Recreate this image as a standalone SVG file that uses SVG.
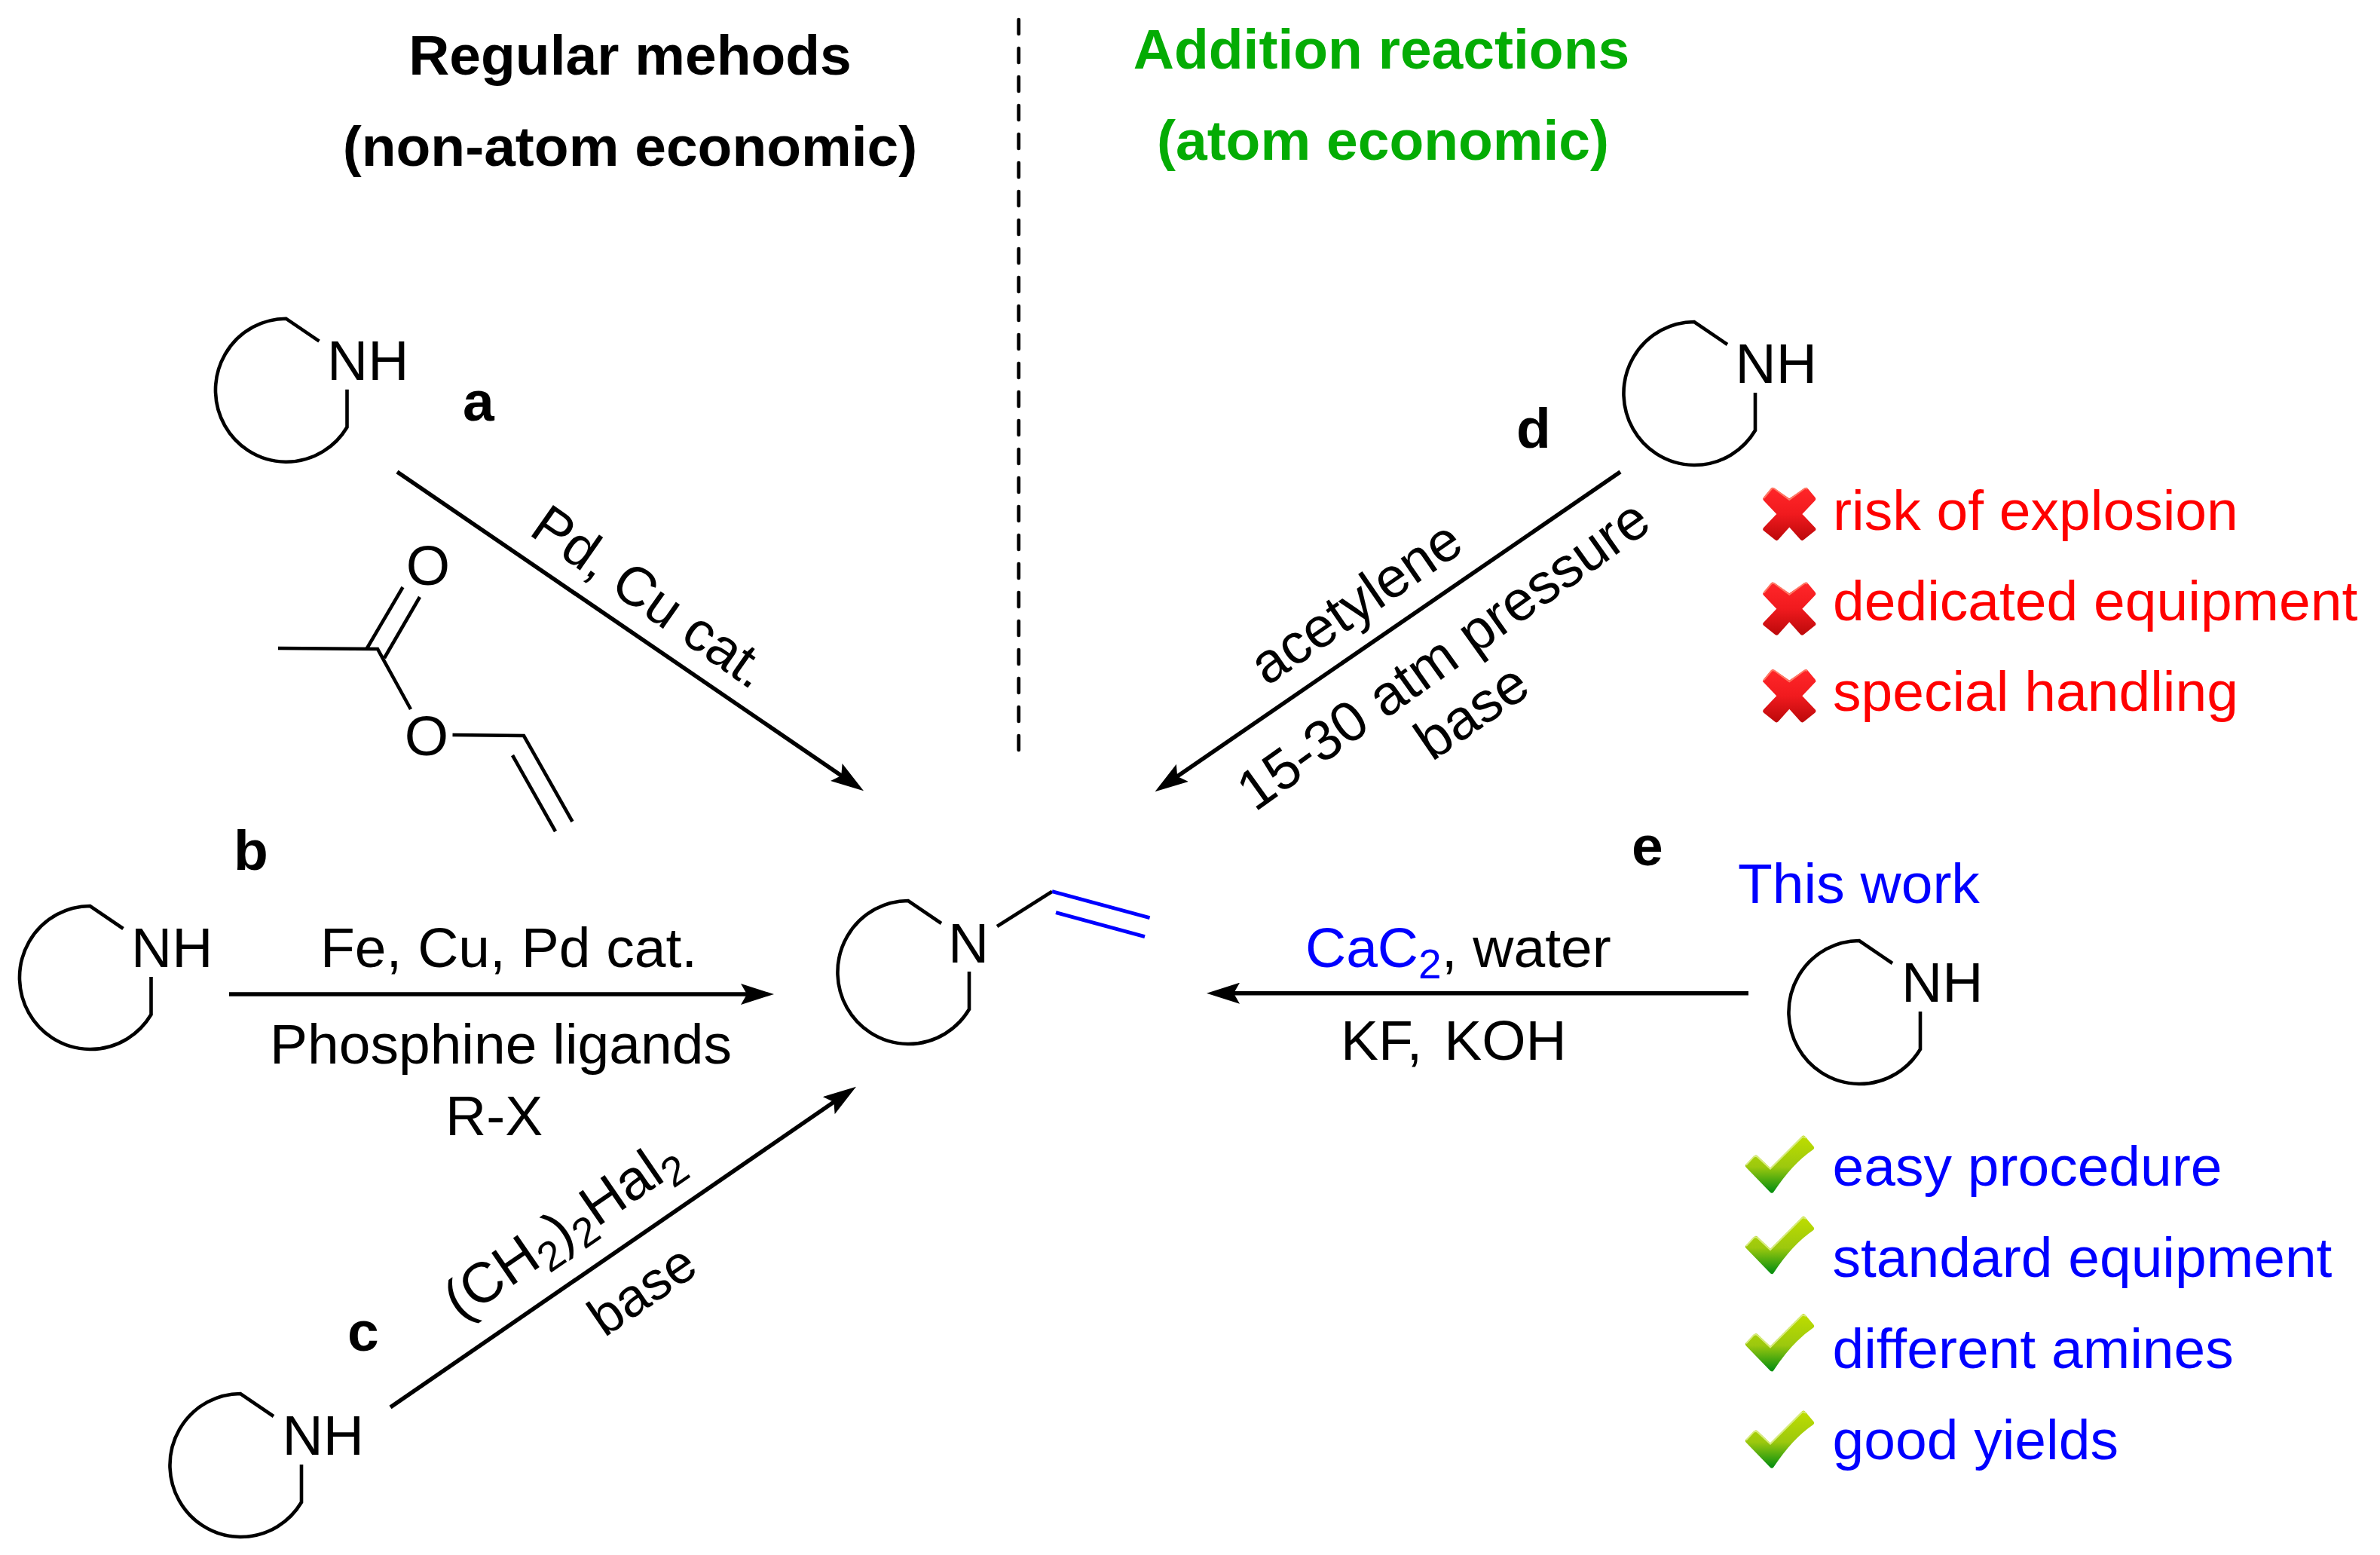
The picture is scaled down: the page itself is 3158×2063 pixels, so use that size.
<svg xmlns="http://www.w3.org/2000/svg" xmlns:xlink="http://www.w3.org/1999/xlink" width="3158" height="2063" viewBox="0 0 3158 2063">
<style>
text{font-family:"Liberation Sans",Arial,sans-serif;font-size:75px;fill:#000}
.b{font-weight:bold}
.g{fill:#04ac04}
.r{fill:#ff0000}
.u{fill:#0000ff}
.bond{fill:none;stroke:#000;stroke-width:4.6}
.arrow{fill:none;stroke:#000;stroke-width:5.5;marker-end:url(#head)}
.sub{font-size:55px}
</style>
<defs>
<marker id="head" markerUnits="userSpaceOnUse" refX="24" refY="14" markerWidth="46" markerHeight="28" orient="auto"><path d="M44 14L0 0L8 14L0 28Z" fill="#000"/></marker>
<path id="ring" class="bond" d="M44 30L0 0A94 95 0 1 0 81 144L81 94"/>
<linearGradient id="xg" x1="0" y1="0" x2="0" y2="1"><stop offset="0" stop-color="#ff2528"/><stop offset=".5" stop-color="#f01a1e"/><stop offset="1" stop-color="#c00a0c"/></linearGradient>
<linearGradient id="cg" x1="0" y1="0" x2="0" y2="1"><stop offset="0" stop-color="#bcdc00"/><stop offset=".55" stop-color="#9cc80e"/><stop offset="1" stop-color="#0e9210"/></linearGradient>
<g id="cross"><path d="M3 16L13 4L35 19L57 4L67 16L48 36L67 56L52 68L35 49L18 68L3 56L22 36Z" fill="url(#xg)" stroke="url(#xg)" stroke-width="6" stroke-linejoin="round"/><path d="M1 15L11 3Q13 1 16 3L35 17L54 3Q57 1 59 3" fill="none" stroke="#ff7a66" stroke-width="2"/></g>
<g id="check"><path d="M3 40L14 29L33 47L77 3L88 16Q60 35 35 73Z" fill="url(#cg)" stroke="url(#cg)" stroke-width="6" stroke-linejoin="round"/><path d="M1 39L11 28Q14 26 17 29L33 44L74 3Q77 0 80 3" fill="none" stroke="#d8ec80" stroke-width="2"/></g>
</defs>
<rect width="3158" height="2063" fill="#fff"/>

<g id="headings">
<text class="b" x="836" y="99" text-anchor="middle">Regular mehods</text>
<text class="b" x="836" y="220" text-anchor="middle">(non-atom economic)</text>
<text class="b g" x="1833" y="91" text-anchor="middle">Addition reactions</text>
<text class="b g" x="1835" y="212" text-anchor="middle">(atom economic)</text>
</g>

<g id="connectors">
<line x1="1351.7" y1="26" x2="1351.7" y2="997" stroke="#000" stroke-width="4.7" stroke-dasharray="19 19" stroke-linecap="round"/>
<path class="arrow" d="M527 626L1129.5 1038"/>
<path class="arrow" d="M304 1319L1007 1319"/>
<path class="arrow" d="M518 1867L1119.5 1453"/>
<path class="arrow" d="M2150 626L1549 1039"/>
<path class="arrow" d="M2320 1317.7L1621 1317.7"/>
</g>

<g id="amine-a"><use xlink:href="#ring" href="#ring" x="379.5" y="422.7"/><text x="434" y="503.6">NH</text></g>
<g id="amine-b"><use xlink:href="#ring" href="#ring" x="119.5" y="1202"/><text x="174" y="1283">NH</text></g>
<g id="amine-c"><use xlink:href="#ring" href="#ring" x="319" y="1849"/><text x="374.5" y="1930">NH</text></g>
<g id="amine-d"><use xlink:href="#ring" href="#ring" x="2248" y="427"/><text x="2302.5" y="508">NH</text></g>
<g id="amine-e"><use xlink:href="#ring" href="#ring" x="2467" y="1248"/><text x="2523" y="1329">NH</text></g>

<g id="product">
<use xlink:href="#ring" href="#ring" x="1205" y="1195"/>
<text x="1258" y="1276.7">N</text>
<path class="bond" d="M1323 1229L1396 1182.7"/>
<path fill="none" stroke="#0000ff" stroke-width="5" d="M1396 1182.7L1525.6 1217.7M1401 1210.7L1519 1242.7"/>
</g>

<g id="vinyl-acetate">
<path class="bond" d="M369 860L501 861L545 941M487 860L534.5 779M510 873L557 792M600.5 975L695 976L759.5 1090M680 1002L737 1103"/>
<text x="568" y="776" text-anchor="middle">O</text>
<text x="566" y="1002" text-anchor="middle">O</text>
</g>

<g id="labels">
<text class="b" x="614" y="558">a</text>
<text class="b" x="310" y="1154">b</text>
<text class="b" x="461" y="1792">c</text>
<text class="b" x="2012" y="594">d</text>
<text class="b" x="2165" y="1148">e</text>
<text transform="translate(700 708) rotate(35) scale(.98)">Pd, Cu cat.</text>
<text x="425" y="1283">Fe, Cu, Pd cat.</text>
<text x="358" y="1411">Phosphine ligands</text>
<text x="591" y="1506">R-X</text>
<text transform="translate(611 1753) rotate(-34.5)">(CH<tspan class="sub" dy="15">2</tspan><tspan dy="-15">)</tspan><tspan class="sub" dy="15">2</tspan><tspan dy="-15">Hal</tspan><tspan class="sub" dy="15">2</tspan></text>
<text transform="translate(802 1775) rotate(-34.5) scale(.95)">base</text>
<text transform="translate(1681 911) rotate(-34.5)">acetylene</text>
<text transform="translate(1665 1078) rotate(-35.5)">15-30 atm pressure</text>
<text transform="translate(1900 1011) rotate(-34.5)">base</text>
<text x="2306" y="1198" class="u">This work</text>
<text x="1732" y="1283"><tspan class="u">CaC</tspan><tspan class="u sub" dy="15">2</tspan><tspan dy="-15">, water</tspan></text>
<text x="1779" y="1405.7" word-spacing="8">KF, KOH</text>
</g>

<g id="drawbacks">
<use xlink:href="#cross" href="#cross" x="2339.3" y="646"/>
<use xlink:href="#cross" href="#cross" x="2339.3" y="771.7"/>
<use xlink:href="#cross" href="#cross" x="2339.3" y="887.3"/>
<text class="r" x="2432" y="702.7">risk of explosion</text>
<text class="r" x="2432" y="822.7">dedicated equipment</text>
<text class="r" x="2432" y="943">special handling</text>
</g>

<g id="advantages">
<use xlink:href="#check" href="#check" x="2316" y="1506.7"/>
<use xlink:href="#check" href="#check" x="2316" y="1614"/>
<use xlink:href="#check" href="#check" x="2316" y="1743.3"/>
<use xlink:href="#check" href="#check" x="2316" y="1871.7"/>
<text class="u" x="2431.5" y="1573">easy procedure</text>
<text class="u" x="2431.5" y="1694">standard equipment</text>
<text class="u" x="2431.5" y="1815">different amines</text>
<text class="u" x="2431.5" y="1936">good yields</text>
</g>
</svg>
